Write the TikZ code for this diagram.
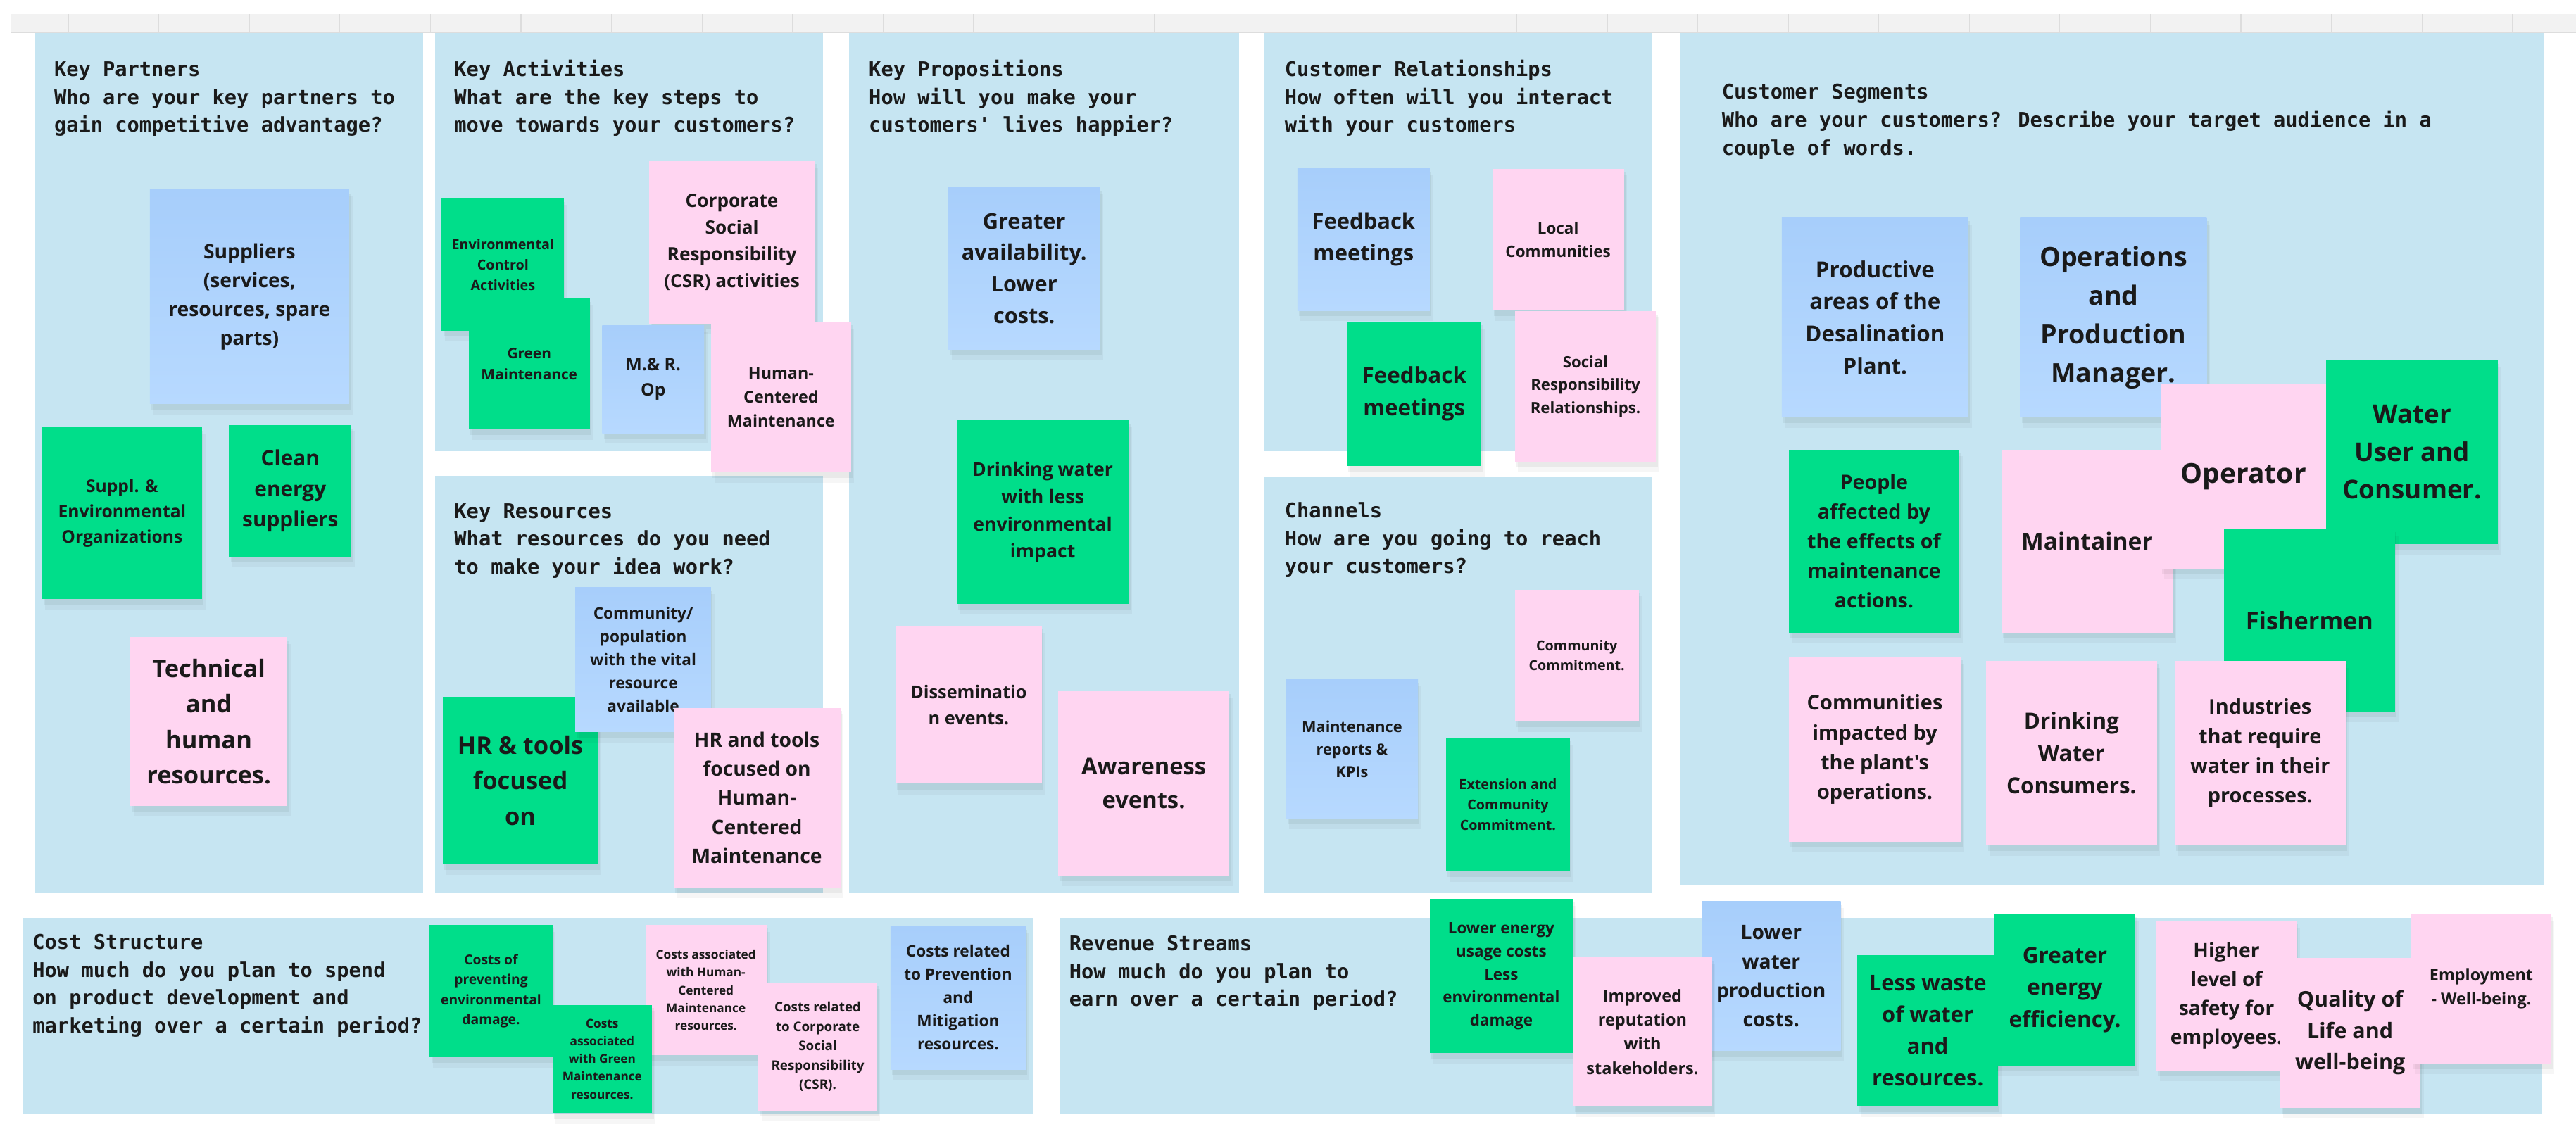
\documentclass[tikz,border=0pt]{standalone}
\usepackage{fontspec}
\newfontfamily\notefont{Open Sans}
\newfontfamily\hdrfont{DejaVu Sans Mono}
\definecolor{panelc}{HTML}{C6E5F2}
\definecolor{bluetop}{HTML}{A7CEFB}
\definecolor{bluebot}{HTML}{B7D9FF}
\definecolor{greenc}{HTML}{00DE8A}
\definecolor{pinkc}{HTML}{FFD5F1}
\definecolor{txtc}{HTML}{1A1A1A}
\definecolor{barc}{HTML}{F2F2F2}
\definecolor{barline}{HTML}{DDDDDD}
\newcommand\fsz[1]{\pgfmathsetmacro\fsv{#1*0.96}\pgfmathsetmacro\bls{#1*1.4}\fontsize{\fsv}{\bls}\selectfont}
\tikzset{
  panel/.style={fill=panelc, draw=none},
  note/.style={rectangle, inner sep=1pt, align=center, text=txtc, draw=none},
  bnote/.style={note, top color=bluetop, bottom color=bluebot},
  gnote/.style={note, fill=greenc},
  pnote/.style={note, fill=pinkc},
  hdr/.style={anchor=north west, inner sep=0pt, align=left, text=txtc,
    font={\hdrfont\bfseries\fontsize{12.3}{17}\selectfont}},
}
\newcommand\stick[8]{%
  \fill[black,opacity=0.05] ({#3+1},{#4+2}) rectangle ({#5+1},{#6+3.5});
  \fill[black,opacity=0.035] ({#3+2},{#4+4}) rectangle ({#5+2},{#6+6.5});
  \node[#2, minimum width={(#5-#3)*1pt}, minimum height={(#6-#4)*1pt}, font={\notefont\bfseries\fsz{#7}}] (#1) at ({(#3+#5)/2},{(#4+#6)/2}) {#8};
}
\newcommand\hdrtext[4]{%
  \node[hdr] (#1) at (#2,{#3-10}) {\rule{0pt}{10pt}#4};
}
\begin{document}
\begin{tikzpicture}[x=1pt,y=-1pt]
\useasboundingbox (0,0) rectangle (1568,687);
\fill[white] (0,0) rectangle (1568,687);
% top bar
\fill[barc] (7,8.6) rectangle (1568,20);
\foreach \k in {0,...,27}{\draw[barline, line width=0.5pt] ({41.6+55.1*\k},8.6) -- ({41.6+55.1*\k},20);}
\draw[barline, line width=0.6pt] (7,20) -- (1568,20);
% panels
\fill[panel] (21.3,20) rectangle (257.4,544);
\fill[panel] (265,20) rectangle (501,274.5);
\fill[panel] (265,289.6) rectangle (501,544);
\fill[panel] (517,20) rectangle (754,544);
\fill[panel] (769.7,20) rectangle (1005.7,274.5);
\fill[panel] (769.7,290) rectangle (1005.7,544);
\fill[panel] (1022.7,20) rectangle (1548.4,538.7);
\fill[panel] (13.5,559) rectangle (628.7,678.5);
\fill[panel] (644.8,559) rectangle (1547.6,678.5);
% headers
\hdrtext{hkp}{32.8}{46.3}{Key Partners\\Who are your key partners to\\gain competitive advantage?}
\hdrtext{hka}{276.4}{46.3}{Key Activities\\What are the key steps to\\move towards your customers?}
\hdrtext{hkr}{276.4}{315.2}{Key Resources\\What resources do you need\\to make your idea work?}
\hdrtext{hkpr}{528.7}{46.3}{Key Propositions\\How will you make your\\customers' lives happier?}
\hdrtext{hcr}{781.8}{46.3}{Customer Relationships\\How often will you interact\\with your customers}
\hdrtext{hch}{781.8}{315}{Channels\\How are you going to reach\\your customers?}
\hdrtext{hcs}{1047.9}{60.1}{Customer Segments\\Who are your customers? Describe your target audience in a\\couple of words.}
\hdrtext{hcost}{19.7}{577.7}{Cost Structure\\How much do you plan to spend\\on product development and\\marketing over a certain period?}
\hdrtext{hrev}{650.7}{578.5}{Revenue Streams\\How much do you plan to\\earn over a certain period?}
% Key Partners
\stick{sup}{bnote}{91.2}{115.7}{212.5}{245.8}{12.6}{Suppliers\\(services,\\resources, spare\\parts)}
\stick{suppl}{gnote}{25.6}{260.2}{123}{364.8}{11}{Suppl. \&\\Environmental\\Organizations}
\stick{clean}{gnote}{139.4}{258.8}{214}{339}{13.3}{Clean\\energy\\suppliers}
\stick{tech}{pnote}{79.4}{388}{174.8}{490.6}{15.4}{Technical\\and\\human\\resources.}
% Key Activities
\stick{eca}{gnote}{268.9}{120.9}{343.3}{201.4}{8.8}{Environmental\\Control\\Activities}
\stick{gm}{gnote}{285.3}{181.7}{359}{261.5}{9.3}{Green\\Maintenance}
\stick{csr}{pnote}{395}{98}{496}{197}{11.7}{Corporate\\Social\\Responsibility\\(CSR) activities}
\stick{mro}{bnote}{366.6}{198}{428.6}{263.6}{11}{M.\& R.\\Op}
\stick{hcm}{pnote}{432.8}{196}{518}{287.5}{10.4}{Human-\\Centered\\Maintenance}
% Key Resources
\stick{hrt}{gnote}{269.5}{424.3}{364}{526.1}{15.4}{HR \& tools\\focused\\on}
\stick{comm}{bnote}{350.2}{357.7}{432.8}{445.6}{10.1}{Community/\\population\\with the vital\\resource\\available}
\stick{hrhc}{pnote}{409.9}{431}{511.5}{540.4}{12.6}{HR and tools\\focused on\\Human-\\Centered\\Maintenance}
% Key Propositions
\stick{ga}{bnote}{577.2}{114.2}{669.6}{212.7}{13.7}{Greater\\availability.\\Lower\\costs.}
\stick{dw}{gnote}{582.4}{256}{687}{367.7}{11.9}{Drinking water\\with less\\environmental\\impact}
\stick{dis}{pnote}{545}{381.1}{634.2}{477.1}{11.3}{Disseminatio\\n events.}
\stick{aw}{pnote}{644.1}{420.7}{748.3}{533}{14.6}{Awareness\\events.}
% Customer Relationships
\stick{fba}{bnote}{789.7}{102.7}{870.3}{189}{13.8}{Feedback\\meetings}
\stick{lc}{pnote}{908.4}{102.7}{988.4}{189}{10}{Local\\Communities}
\stick{fbb}{gnote}{819.8}{196}{901.8}{283.5}{14}{Feedback\\meetings}
\stick{srr}{pnote}{922.1}{189.4}{1008}{281.2}{9.9}{Social\\Responsibility\\Relationships.}
% Channels
\stick{cc}{pnote}{922.1}{358.9}{997.5}{439.2}{8.8}{Community\\Commitment.}
\stick{mrk}{bnote}{782.8}{413.6}{863.1}{498.5}{9.7}{Maintenance\\reports \&\\KPIs}
\stick{ecc}{gnote}{880.2}{449.4}{955.6}{530.3}{8.8}{Extension and\\Community\\Commitment.}
% Customer Segments
\stick{pa}{bnote}{1084.6}{132.6}{1198.1}{254}{14}{Productive\\areas of the\\Desalination\\Plant.}
\stick{opm}{bnote}{1229.6}{132.6}{1343.2}{254}{16.8}{Operations\\and\\Production\\Manager.}
\stick{mnt}{pnote}{1218.1}{273.7}{1322.6}{385.3}{15}{Maintainer}
\stick{opr}{pnote}{1315.2}{233.8}{1416}{346.1}{17.4}{Operator}
\stick{wuc}{gnote}{1416}{219.6}{1520.4}{331.1}{16.4}{Water\\User and\\Consumer.}
\stick{fsh}{gnote}{1353.7}{322.1}{1457.8}{433.1}{15.3}{Fishermen}
\stick{pae}{gnote}{1088.8}{273.7}{1192.6}{385.3}{12.8}{People\\affected by\\the effects of\\maintenance\\actions.}
\stick{cip}{pnote}{1088.8}{400}{1193.6}{512.5}{12.9}{Communities\\impacted by\\the plant's\\operations.}
\stick{dwc}{pnote}{1209}{402.5}{1312.8}{514.4}{14}{Drinking\\Water\\Consumers.}
\stick{ind}{pnote}{1323.6}{402.5}{1427.8}{514.4}{12.9}{Industries\\that require\\water in their\\processes.}
% Cost Structure
\stick{cpe}{gnote}{261.6}{563.2}{336.2}{643.5}{8.6}{Costs of\\preventing\\environmental\\damage.}
\stick{chc}{pnote}{392.8}{563.2}{466.6}{642.4}{7.7}{Costs associated\\with Human-\\Centered\\Maintenance\\resources.}
\stick{cgm}{gnote}{336.2}{611.8}{396.9}{677.7}{7.7}{Costs\\associated\\with Green\\Maintenance\\resources.}
\stick{ccsr}{pnote}{461.7}{598.2}{533.8}{676.3}{8.4}{Costs related\\to Corporate\\Social\\Responsibility\\(CSR).}
\stick{cpm}{bnote}{542}{563.9}{624.4}{651}{10.1}{Costs related\\to Prevention\\and\\Mitigation\\resources.}
% Revenue Streams
\stick{lec}{gnote}{870.2}{547.4}{957.4}{641.1}{10}{Lower energy\\usage costs\\Less\\environmental\\damage}
\stick{lwp}{bnote}{1035.8}{548.9}{1120.4}{639.7}{12.6}{Lower\\water\\production\\costs.}
\stick{irs}{pnote}{957.4}{582.8}{1042.1}{673.5}{10.5}{Improved\\reputation\\with\\stakeholders.}
\stick{lw}{gnote}{1130.6}{581.4}{1216.2}{673.5}{13.8}{Less waste\\of water\\and\\resources.}
\stick{gee}{gnote}{1214.1}{556.4}{1299.7}{648.8}{14}{Greater\\energy\\efficiency.}
\stick{hls}{pnote}{1312.6}{560.7}{1397.9}{651.7}{12.6}{Higher\\level of\\safety for\\employees.}
\stick{qol}{pnote}{1387.7}{583.1}{1473.3}{674.5}{13.6}{Quality of\\Life and\\well-being}
\stick{emp}{pnote}{1467.9}{556.4}{1552.8}{647.4}{10.4}{Employment\\- Well-being.}
\end{tikzpicture}
\end{document}
